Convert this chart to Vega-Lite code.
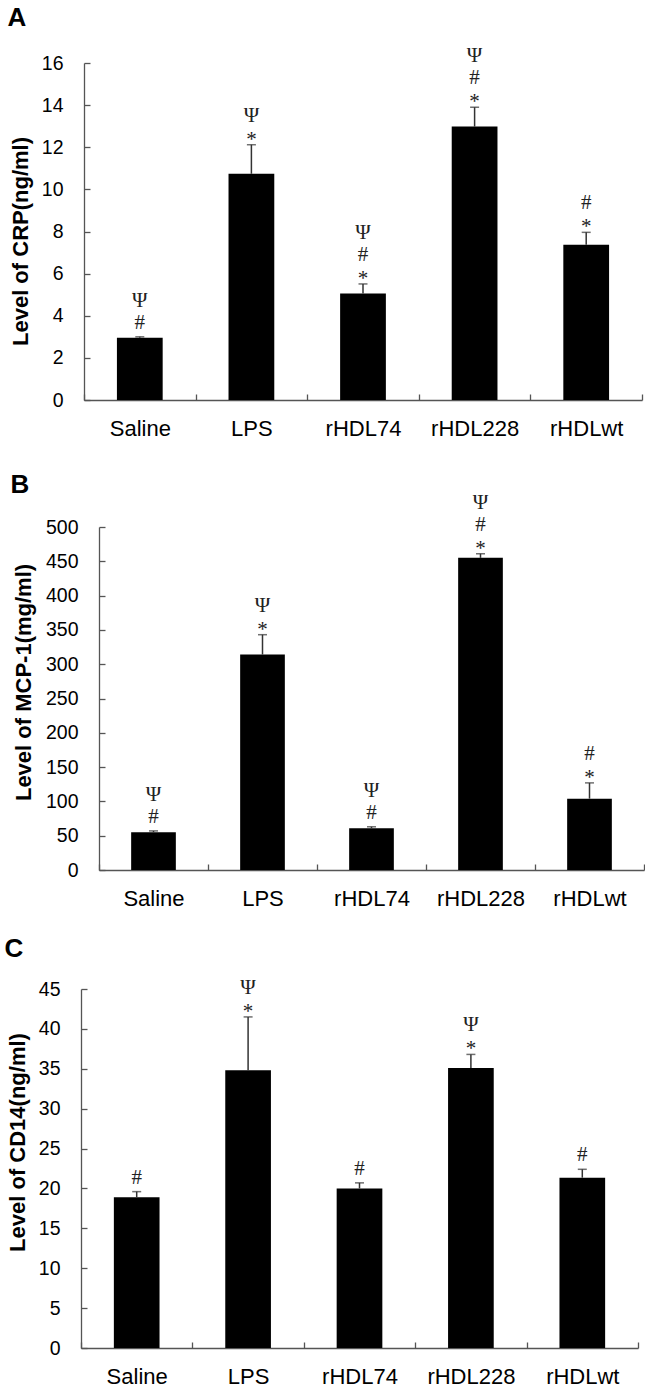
{
  "$schema": "https://vega.github.io/schema/vega-lite/v6.json",
  "padding": {"left": 4, "top": 4, "right": 0, "bottom": 0},
  "background": "white",
  "columns": 1,
  "spacing": 32,
  "datasets": {
    "crp": [
      {"group": "Saline", "mean": 2.95, "upper": 3.0, "s1": "#", "s2": "Ψ", "s3": ""},
      {"group": "LPS", "mean": 10.74, "upper": 12.12, "s1": "*", "s2": "Ψ", "s3": ""},
      {"group": "rHDL74", "mean": 5.06, "upper": 5.51, "s1": "*", "s2": "#", "s3": "Ψ"},
      {"group": "rHDL228", "mean": 12.98, "upper": 13.9, "s1": "*", "s2": "#", "s3": "Ψ"},
      {"group": "rHDLwt", "mean": 7.37, "upper": 7.96, "s1": "*", "s2": "#", "s3": ""}
    ],
    "mcp": [
      {"group": "Saline", "mean": 55, "upper": 57, "s1": "#", "s2": "Ψ", "s3": ""},
      {"group": "LPS", "mean": 314, "upper": 343, "s1": "*", "s2": "Ψ", "s3": ""},
      {"group": "rHDL74", "mean": 61, "upper": 63, "s1": "#", "s2": "Ψ", "s3": ""},
      {"group": "rHDL228", "mean": 455, "upper": 461, "s1": "*", "s2": "#", "s3": "Ψ"},
      {"group": "rHDLwt", "mean": 104, "upper": 127, "s1": "*", "s2": "#", "s3": ""}
    ],
    "cd14": [
      {"group": "Saline", "mean": 18.9, "upper": 19.6, "s1": "#", "s2": "", "s3": ""},
      {"group": "LPS", "mean": 34.8, "upper": 41.5, "s1": "*", "s2": "Ψ", "s3": ""},
      {"group": "rHDL74", "mean": 20.0, "upper": 20.7, "s1": "#", "s2": "", "s3": ""},
      {"group": "rHDL228", "mean": 35.1, "upper": 36.8, "s1": "*", "s2": "Ψ", "s3": ""},
      {"group": "rHDLwt", "mean": 21.35, "upper": 22.4, "s1": "#", "s2": "", "s3": ""}
    ]
  },
  "concat": [
    {
      "width": 561, "height": 337,
      "data": {"name": "crp"},
      "title": {"text": "A", "offset": 14.5},
      "encoding": {
        "x": {"field": "group", "type": "nominal", "sort": null, "title": null,
              "scale": {"paddingInner": 0, "paddingOuter": 0, "range": [3, 561]}}
      },
      "layer": [
        {"mark": {"type": "bar", "width": {"band": 0.41}, "color": "black"},
         "encoding": {"y": {"field": "mean", "type": "quantitative", "title": "Level of CRP(ng/ml)", "scale": {"domain": [0, 16]}, "axis": {"values": [0, 2, 4, 6, 8, 10, 12, 14, 16], "offset": -3, "titlePadding": 8.8, "titleY": 178, "labelOverlap": false}}}},
        {"mark": {"type": "rule", "color": "#333", "strokeWidth": 1.5},
         "encoding": {"y": {"field": "mean", "type": "quantitative", "title": "Level of CRP(ng/ml)", "scale": {"domain": [0, 16]}, "axis": {"values": [0, 2, 4, 6, 8, 10, 12, 14, 16], "offset": -3, "titlePadding": 8.8, "titleY": 178, "labelOverlap": false}}, "y2": {"field": "upper"}}},
        {"mark": {"type": "tick", "color": "#333", "size": 9, "thickness": 1.5},
         "encoding": {"y": {"field": "upper", "type": "quantitative", "title": "Level of CRP(ng/ml)", "scale": {"domain": [0, 16]}, "axis": {"values": [0, 2, 4, 6, 8, 10, 12, 14, 16], "offset": -3, "titlePadding": 8.8, "titleY": 178, "labelOverlap": false}}}},
        {"transform": [{"filter": "datum.s1 == '*'"}],
         "mark": {"type": "text", "font": "Liberation Serif", "fontSize": 21, "baseline": "middle", "color": "#222", "dy": -5},
         "encoding": {"y": {"field": "upper", "type": "quantitative", "title": "Level of CRP(ng/ml)", "scale": {"domain": [0, 16]}, "axis": {"values": [0, 2, 4, 6, 8, 10, 12, 14, 16], "offset": -3, "titlePadding": 8.8, "titleY": 178, "labelOverlap": false}}, "text": {"field": "s1"}}},
        {"transform": [{"filter": "datum.s1 == '#'"}],
         "mark": {"type": "text", "font": "Liberation Serif", "fontSize": 21, "baseline": "middle", "color": "#222", "dy": -14},
         "encoding": {"y": {"field": "upper", "type": "quantitative", "title": "Level of CRP(ng/ml)", "scale": {"domain": [0, 16]}, "axis": {"values": [0, 2, 4, 6, 8, 10, 12, 14, 16], "offset": -3, "titlePadding": 8.8, "titleY": 178, "labelOverlap": false}}, "text": {"field": "s1"}}},
        {"transform": [{"filter": "datum.s1 == '*' && datum.s2 != ''"}],
         "mark": {"type": "text", "font": "Liberation Serif", "fontSize": 21, "baseline": "middle", "color": "#222", "dy": -29},
         "encoding": {"y": {"field": "upper", "type": "quantitative", "title": "Level of CRP(ng/ml)", "scale": {"domain": [0, 16]}, "axis": {"values": [0, 2, 4, 6, 8, 10, 12, 14, 16], "offset": -3, "titlePadding": 8.8, "titleY": 178, "labelOverlap": false}}, "text": {"field": "s2"}}},
        {"transform": [{"filter": "datum.s1 == '#' && datum.s2 != ''"}],
         "mark": {"type": "text", "font": "Liberation Serif", "fontSize": 21, "baseline": "middle", "color": "#222", "dy": -36},
         "encoding": {"y": {"field": "upper", "type": "quantitative", "title": "Level of CRP(ng/ml)", "scale": {"domain": [0, 16]}, "axis": {"values": [0, 2, 4, 6, 8, 10, 12, 14, 16], "offset": -3, "titlePadding": 8.8, "titleY": 178, "labelOverlap": false}}, "text": {"field": "s2"}}},
        {"transform": [{"filter": "datum.s3 != ''"}],
         "mark": {"type": "text", "font": "Liberation Serif", "fontSize": 21, "baseline": "middle", "color": "#222", "dy": -51},
         "encoding": {"y": {"field": "upper", "type": "quantitative", "title": "Level of CRP(ng/ml)", "scale": {"domain": [0, 16]}, "axis": {"values": [0, 2, 4, 6, 8, 10, 12, 14, 16], "offset": -3, "titlePadding": 8.8, "titleY": 178, "labelOverlap": false}}, "text": {"field": "s3"}}}
      ]
    },
    {
      "columns": 1,
      "spacing": 26,
      "concat": [
        {
          "width": 563, "height": 343,
          "data": {"name": "mcp"},
          "title": {"text": "B", "offset": -6},
          "encoding": {
            "x": {"field": "group", "type": "nominal", "sort": null, "title": null,
                  "scale": {"paddingInner": 0, "paddingOuter": 0, "range": [18, 563]}}
          },
          "layer": [
            {"mark": {"type": "bar", "width": {"band": 0.41}, "color": "black"},
             "encoding": {"y": {"field": "mean", "type": "quantitative", "title": "Level of MCP-1(mg/ml)", "scale": {"domain": [0, 500]}, "axis": {"values": [0, 50, 100, 150, 200, 250, 300, 350, 400, 450, 500], "offset": -18, "titlePadding": 10, "titleY": 155, "labelOverlap": false}}}},
            {"mark": {"type": "rule", "color": "#333", "strokeWidth": 1.5},
             "encoding": {"y": {"field": "mean", "type": "quantitative", "title": "Level of MCP-1(mg/ml)", "scale": {"domain": [0, 500]}, "axis": {"values": [0, 50, 100, 150, 200, 250, 300, 350, 400, 450, 500], "offset": -18, "titlePadding": 10, "titleY": 155, "labelOverlap": false}}, "y2": {"field": "upper"}}},
            {"mark": {"type": "tick", "color": "#333", "size": 9, "thickness": 1.5},
             "encoding": {"y": {"field": "upper", "type": "quantitative", "title": "Level of MCP-1(mg/ml)", "scale": {"domain": [0, 500]}, "axis": {"values": [0, 50, 100, 150, 200, 250, 300, 350, 400, 450, 500], "offset": -18, "titlePadding": 10, "titleY": 155, "labelOverlap": false}}}},
            {"transform": [{"filter": "datum.s1 == '*'"}],
             "mark": {"type": "text", "font": "Liberation Serif", "fontSize": 21, "baseline": "middle", "color": "#222", "dy": -5},
             "encoding": {"y": {"field": "upper", "type": "quantitative", "title": "Level of MCP-1(mg/ml)", "scale": {"domain": [0, 500]}, "axis": {"values": [0, 50, 100, 150, 200, 250, 300, 350, 400, 450, 500], "offset": -18, "titlePadding": 10, "titleY": 155, "labelOverlap": false}}, "text": {"field": "s1"}}},
            {"transform": [{"filter": "datum.s1 == '#'"}],
             "mark": {"type": "text", "font": "Liberation Serif", "fontSize": 21, "baseline": "middle", "color": "#222", "dy": -14},
             "encoding": {"y": {"field": "upper", "type": "quantitative", "title": "Level of MCP-1(mg/ml)", "scale": {"domain": [0, 500]}, "axis": {"values": [0, 50, 100, 150, 200, 250, 300, 350, 400, 450, 500], "offset": -18, "titlePadding": 10, "titleY": 155, "labelOverlap": false}}, "text": {"field": "s1"}}},
            {"transform": [{"filter": "datum.s1 == '*' && datum.s2 != ''"}],
             "mark": {"type": "text", "font": "Liberation Serif", "fontSize": 21, "baseline": "middle", "color": "#222", "dy": -29},
             "encoding": {"y": {"field": "upper", "type": "quantitative", "title": "Level of MCP-1(mg/ml)", "scale": {"domain": [0, 500]}, "axis": {"values": [0, 50, 100, 150, 200, 250, 300, 350, 400, 450, 500], "offset": -18, "titlePadding": 10, "titleY": 155, "labelOverlap": false}}, "text": {"field": "s2"}}},
            {"transform": [{"filter": "datum.s1 == '#' && datum.s2 != ''"}],
             "mark": {"type": "text", "font": "Liberation Serif", "fontSize": 21, "baseline": "middle", "color": "#222", "dy": -36},
             "encoding": {"y": {"field": "upper", "type": "quantitative", "title": "Level of MCP-1(mg/ml)", "scale": {"domain": [0, 500]}, "axis": {"values": [0, 50, 100, 150, 200, 250, 300, 350, 400, 450, 500], "offset": -18, "titlePadding": 10, "titleY": 155, "labelOverlap": false}}, "text": {"field": "s2"}}},
            {"transform": [{"filter": "datum.s3 != ''"}],
             "mark": {"type": "text", "font": "Liberation Serif", "fontSize": 21, "baseline": "middle", "color": "#222", "dy": -51},
             "encoding": {"y": {"field": "upper", "type": "quantitative", "title": "Level of MCP-1(mg/ml)", "scale": {"domain": [0, 500]}, "axis": {"values": [0, 50, 100, 150, 200, 250, 300, 350, 400, 450, 500], "offset": -18, "titlePadding": 10, "titleY": 155, "labelOverlap": false}}, "text": {"field": "s3"}}}
          ]
        },
        {
          "width": 557, "height": 359,
          "data": {"name": "cd14"},
          "title": {"text": "C", "offset": 15},
          "encoding": {
            "x": {"field": "group", "type": "nominal", "sort": null, "title": null,
                  "scale": {"paddingInner": 0, "paddingOuter": 0, "range": [0, 557]}}
          },
          "layer": [
            {"mark": {"type": "bar", "width": {"band": 0.41}, "color": "black"},
             "encoding": {"y": {"field": "mean", "type": "quantitative", "title": "Level of CD14(ng/ml)", "scale": {"domain": [0, 45]}, "axis": {"values": [0, 5, 10, 15, 20, 25, 30, 35, 40, 45], "titlePadding": 8.8, "titleY": 153, "labelOverlap": false}}}},
            {"mark": {"type": "rule", "color": "#333", "strokeWidth": 1.5},
             "encoding": {"y": {"field": "mean", "type": "quantitative", "title": "Level of CD14(ng/ml)", "scale": {"domain": [0, 45]}, "axis": {"values": [0, 5, 10, 15, 20, 25, 30, 35, 40, 45], "titlePadding": 8.8, "titleY": 153, "labelOverlap": false}}, "y2": {"field": "upper"}}},
            {"mark": {"type": "tick", "color": "#333", "size": 9, "thickness": 1.5},
             "encoding": {"y": {"field": "upper", "type": "quantitative", "title": "Level of CD14(ng/ml)", "scale": {"domain": [0, 45]}, "axis": {"values": [0, 5, 10, 15, 20, 25, 30, 35, 40, 45], "titlePadding": 8.8, "titleY": 153, "labelOverlap": false}}}},
            {"transform": [{"filter": "datum.s1 == '*'"}],
             "mark": {"type": "text", "font": "Liberation Serif", "fontSize": 21, "baseline": "middle", "color": "#222", "dy": -5},
             "encoding": {"y": {"field": "upper", "type": "quantitative", "title": "Level of CD14(ng/ml)", "scale": {"domain": [0, 45]}, "axis": {"values": [0, 5, 10, 15, 20, 25, 30, 35, 40, 45], "titlePadding": 8.8, "titleY": 153, "labelOverlap": false}}, "text": {"field": "s1"}}},
            {"transform": [{"filter": "datum.s1 == '#'"}],
             "mark": {"type": "text", "font": "Liberation Serif", "fontSize": 21, "baseline": "middle", "color": "#222", "dy": -14},
             "encoding": {"y": {"field": "upper", "type": "quantitative", "title": "Level of CD14(ng/ml)", "scale": {"domain": [0, 45]}, "axis": {"values": [0, 5, 10, 15, 20, 25, 30, 35, 40, 45], "titlePadding": 8.8, "titleY": 153, "labelOverlap": false}}, "text": {"field": "s1"}}},
            {"transform": [{"filter": "datum.s1 == '*' && datum.s2 != ''"}],
             "mark": {"type": "text", "font": "Liberation Serif", "fontSize": 21, "baseline": "middle", "color": "#222", "dy": -29},
             "encoding": {"y": {"field": "upper", "type": "quantitative", "title": "Level of CD14(ng/ml)", "scale": {"domain": [0, 45]}, "axis": {"values": [0, 5, 10, 15, 20, 25, 30, 35, 40, 45], "titlePadding": 8.8, "titleY": 153, "labelOverlap": false}}, "text": {"field": "s2"}}},
            {"transform": [{"filter": "datum.s1 == '#' && datum.s2 != ''"}],
             "mark": {"type": "text", "font": "Liberation Serif", "fontSize": 21, "baseline": "middle", "color": "#222", "dy": -36},
             "encoding": {"y": {"field": "upper", "type": "quantitative", "title": "Level of CD14(ng/ml)", "scale": {"domain": [0, 45]}, "axis": {"values": [0, 5, 10, 15, 20, 25, 30, 35, 40, 45], "titlePadding": 8.8, "titleY": 153, "labelOverlap": false}}, "text": {"field": "s2"}}}
          ]
        }
      ]
    }
  ],
  "config": {
    "view": {"stroke": null},
    "font": "Liberation Sans",
    "title": {"anchor": "start", "fontSize": 26, "fontWeight": "bold", "font": "Liberation Sans", "color": "black", "dx": -2},
    "axis": {
      "grid": false,
      "domainColor": "#555", "tickColor": "#555", "domainWidth": 1.3, "tickWidth": 1.3,
      "labelFont": "Liberation Sans", "titleFont": "Liberation Sans",
      "labelColor": "black", "titleColor": "black"
    },
    "axisX": {"labelAngle": 0, "labelFontSize": 22, "tickBand": "extent", "tickSize": -6, "labelPadding": 24},
    "axisY": {"labelFontSize": 19.5, "tickSize": -6, "labelPadding": 27, "titleFontSize": 22, "titleFontWeight": "bold"}
  }
}
